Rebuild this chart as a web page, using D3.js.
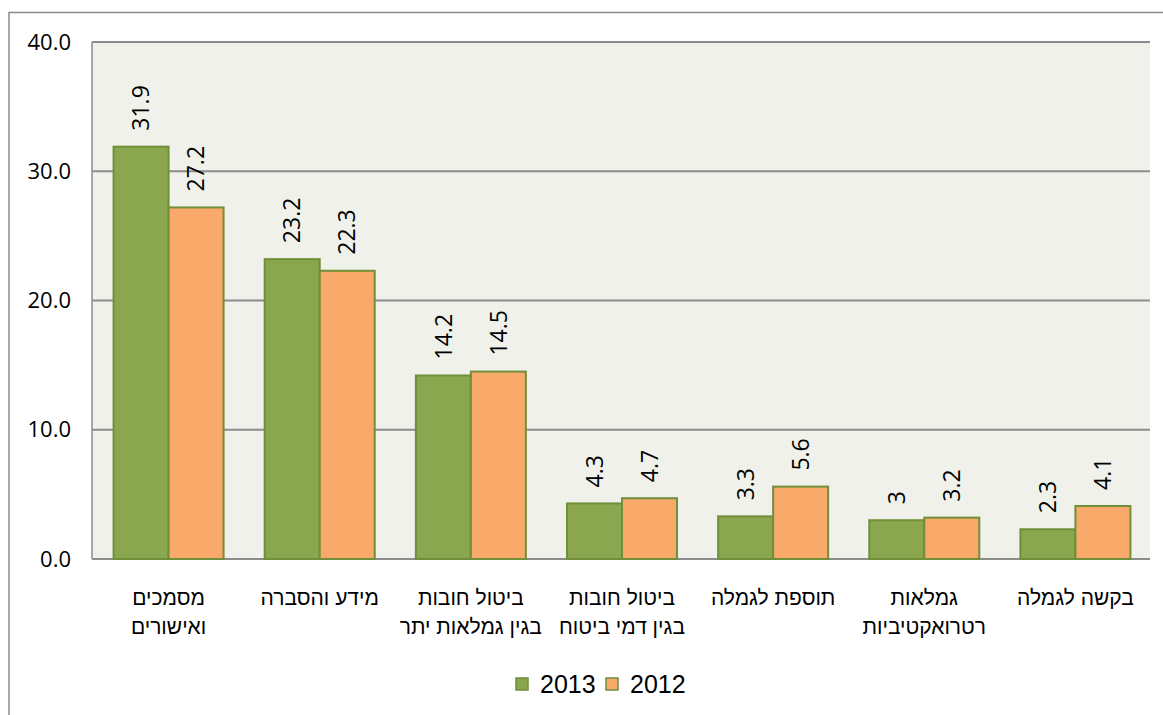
<!DOCTYPE html>
<html lang="he">
<head>
<meta charset="utf-8">
<script src="https://cdn.jsdelivr.net/npm/d3@7"></script>
<style>
  html, body { margin: 0; padding: 0; background: #ffffff; }
  svg { display: block; }
</style>
</head>
<body>
<svg id="chart" width="1163" height="715"></svg>
<script>
// Categories (each entry holds the label lines of one category)
const categories = [
  ["מסמכים", "ואישורים"],
  ["מידע והסברה"],
  ["ביטול חובות", "בגין גמלאות יתר"],
  ["ביטול חובות", "בגין דמי ביטוח"],
  ["תוספת לגמלה"],
  ["גמלאות", "רטרואקטיביות"],
  ["בקשה לגמלה"]
];
const seriesNames = ["2013", "2012"];
const values2013 = [31.9, 23.2, 14.2, 4.3, 3.3, 3, 2.3];
const values2012 = [27.2, 22.3, 14.5, 4.7, 5.6, 3.2, 4.1];
const labels2013 = ["31.9", "23.2", "14.2", "4.3", "3.3", "3", "2.3"];
const labels2012 = ["27.2", "22.3", "14.5", "4.7", "5.6", "3.2", "4.1"];
const yTicks = [0, 10, 20, 30, 40];

const colors = { "2013": "#8aa64e", "2012": "#f9aa6b" };
const barStroke = "#6f8f38";
const gridColor = "#8c8c8c";

const svg = d3.select("#chart");
const plot = { left: 92, top: 42, right: 1150, bottom: 559 };

// outer frame (only top and left edges fall inside the view)
svg.append("rect")
  .attr("x", 9).attr("y", 12.5)
  .attr("width", 1200).attr("height", 760)
  .attr("fill", "#ffffff")
  .attr("stroke", "#8a8a8a").attr("stroke-width", 1.5);

const x0 = d3.scaleBand()
  .domain(d3.range(categories.length))
  .range([plot.left, plot.right])
  .paddingInner(0)
  .paddingOuter(0);

const y = d3.scaleLinear().domain([0, 40]).range([plot.bottom, plot.top]);

// plot background
svg.append("rect")
  .attr("x", plot.left).attr("y", plot.top)
  .attr("width", plot.right - plot.left).attr("height", plot.bottom - plot.top)
  .attr("fill", "#eff1ea");

// horizontal gridlines
svg.append("g")
  .selectAll("line")
  .data(yTicks)
  .join("line")
  .attr("x1", plot.left).attr("x2", plot.right)
  .attr("y1", d => y(d)).attr("y2", d => y(d))
  .attr("stroke", gridColor).attr("stroke-width", 2);

// left axis line
svg.append("line")
  .attr("x1", plot.left).attr("x2", plot.left)
  .attr("y1", plot.top).attr("y2", plot.bottom)
  .attr("stroke", gridColor).attr("stroke-width", 1.5);

// y axis labels
const yAxis = d3.axisLeft(y).tickValues(yTicks).tickFormat(d3.format(".1f")).tickSize(0).tickPadding(0);
const gy = svg.append("g").attr("transform", `translate(${plot.left - 21},0)`).call(yAxis);
gy.select(".domain").remove();
gy.selectAll("text")
  .attr("font-family", "'Open Sans', sans-serif")
  .attr("font-size", 22)
  .attr("fill", "#000");

// bars
const barW = 55;

const seriesData = [
  { name: "2013", values: values2013, labels: labels2013, offset: -1 },
  { name: "2012", values: values2012, labels: labels2012, offset: 0 }
];

const center = i => x0(i) + x0.bandwidth() / 2 + 1;

seriesData.forEach(s => {
  svg.append("g")
    .selectAll("rect")
    .data(s.values)
    .join("rect")
    .attr("x", (d, i) => center(i) + s.offset * barW)
    .attr("y", d => y(d))
    .attr("width", barW)
    .attr("height", d => y(0) - y(d))
    .attr("fill", colors[s.name])
    .attr("stroke", barStroke)
    .attr("stroke-width", 2);

  svg.append("g")
    .selectAll("text")
    .data(s.values)
    .join("text")
    .attr("transform", (d, i) => `translate(${center(i) + s.offset * barW + barW / 2},${y(d) - 16}) rotate(-90)`)
    .attr("dy", "0.36em")
    .attr("text-anchor", "start")
    .attr("font-family", "'Open Sans', sans-serif")
    .attr("font-size", 23)
    .attr("fill", "#000")
    .text((d, i) => s.labels[i]);
});

// category labels
const catG = svg.append("g");
categories.forEach((lines, i) => {
  const t = catG.append("text")
    .attr("x", center(i))
    .attr("y", 605)
    .attr("text-anchor", "middle")
    .attr("direction", "rtl")
    .attr("font-family", "'Liberation Sans', Arial, sans-serif")
    .attr("font-size", 21)
    .attr("fill", "#000");
  lines.forEach((ln, k) => {
    t.append("tspan")
      .attr("x", center(i))
      .attr("dy", k === 0 ? 0 : 28.5)
      .text(ln);
  });
});

// legend
const legend = svg.append("g");
const legendItems = [
  { name: seriesNames[0], x: 516 },
  { name: seriesNames[1], x: 606 }
];
legendItems.forEach(it => {
  legend.append("rect")
    .attr("x", it.x).attr("y", 678)
    .attr("width", 12).attr("height", 12)
    .attr("fill", colors[it.name])
    .attr("stroke", barStroke).attr("stroke-width", 1.5);
  legend.append("text")
    .attr("x", it.x + 24).attr("y", 693)
    .attr("font-family", "'Liberation Sans Narrow', 'Liberation Sans', sans-serif")
    .attr("font-size", 25)
    .attr("fill", "#000")
    .text(it.name);
});
</script>
</body>
</html>
